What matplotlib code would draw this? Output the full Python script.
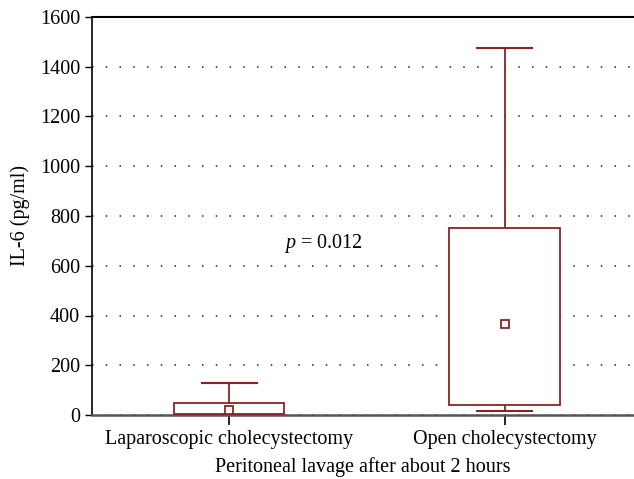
import numpy as np
import matplotlib.pyplot as plt

# values (pg/ml)
groups = ['Laparoscopic cholecystectomy', 'Open cholecystectomy']
whis_lo = [3, 17]
q1 = [4, 39]
med = [20, 364]
q3 = [50, 752]
whis_hi = [129, 1477]
p_text = '= 0.012'

plt.rcParams['font.family'] = ['Liberation Serif', 'DejaVu Serif']
plt.rcParams['font.size'] = 14.5
plt.rcParams['mathtext.fontset'] = 'custom'
plt.rcParams['mathtext.it'] = 'Liberation Serif:italic'
plt.rcParams['mathtext.rm'] = 'Liberation Serif'

col = '#8b2323'

fig = plt.figure(figsize=(6.34, 4.79), dpi=100)
ax = fig.add_axes([92/634, 64/479, 542/634, 398/479])

stats = []
for i in range(len(groups)):
    stats.append({'whislo': whis_lo[i], 'q1': q1[i], 'med': med[i],
                  'q3': q3[i], 'whishi': whis_hi[i], 'label': groups[i]})

ax.bxp(stats, positions=[1, 2], widths=0.4, showfliers=False, patch_artist=True,
       boxprops=dict(facecolor='white', edgecolor=col, linewidth=1.3, zorder=3),
       whiskerprops=dict(color=col, linewidth=1.3),
       capprops=dict(color=col, linewidth=1.5),
       medianprops=dict(linewidth=0), capwidths=0.2)
ax.plot([1, 2], med, linestyle='none', marker='s', markersize=6,
        markerfacecolor='white', markeredgecolor=col, markeredgewidth=1.3, zorder=4)

ax.set_xlim(0.502, 2.47)
ax.set_ylim(0, 1600)
ax.set_yticks(np.arange(0, 1601, 200))
ax.yaxis.grid(True, linestyle=(0, (1, 8)), color='#222222', linewidth=1.1)
ax.set_axisbelow(True)

ax.spines['right'].set_visible(False)
ax.spines['bottom'].set_color('#555555')
ax.spines['bottom'].set_linewidth(1.8)
ax.spines['left'].set_linewidth(1.2)
ax.spines['top'].set_linewidth(1.5)
ax.tick_params(axis='y', direction='out', length=5, width=1.0)
ax.tick_params(axis='x', direction='out', length=7, width=1.2)

ax.set_ylabel('IL-6 (pg/ml)', labelpad=7)
ax.set_xlabel('Peritoneal lavage after about 2 hours', labelpad=6)

ax.text(1.2, 691, '$p$ ' + p_text, ha='left', va='center')

fig.savefig('out.png', dpi=100)
